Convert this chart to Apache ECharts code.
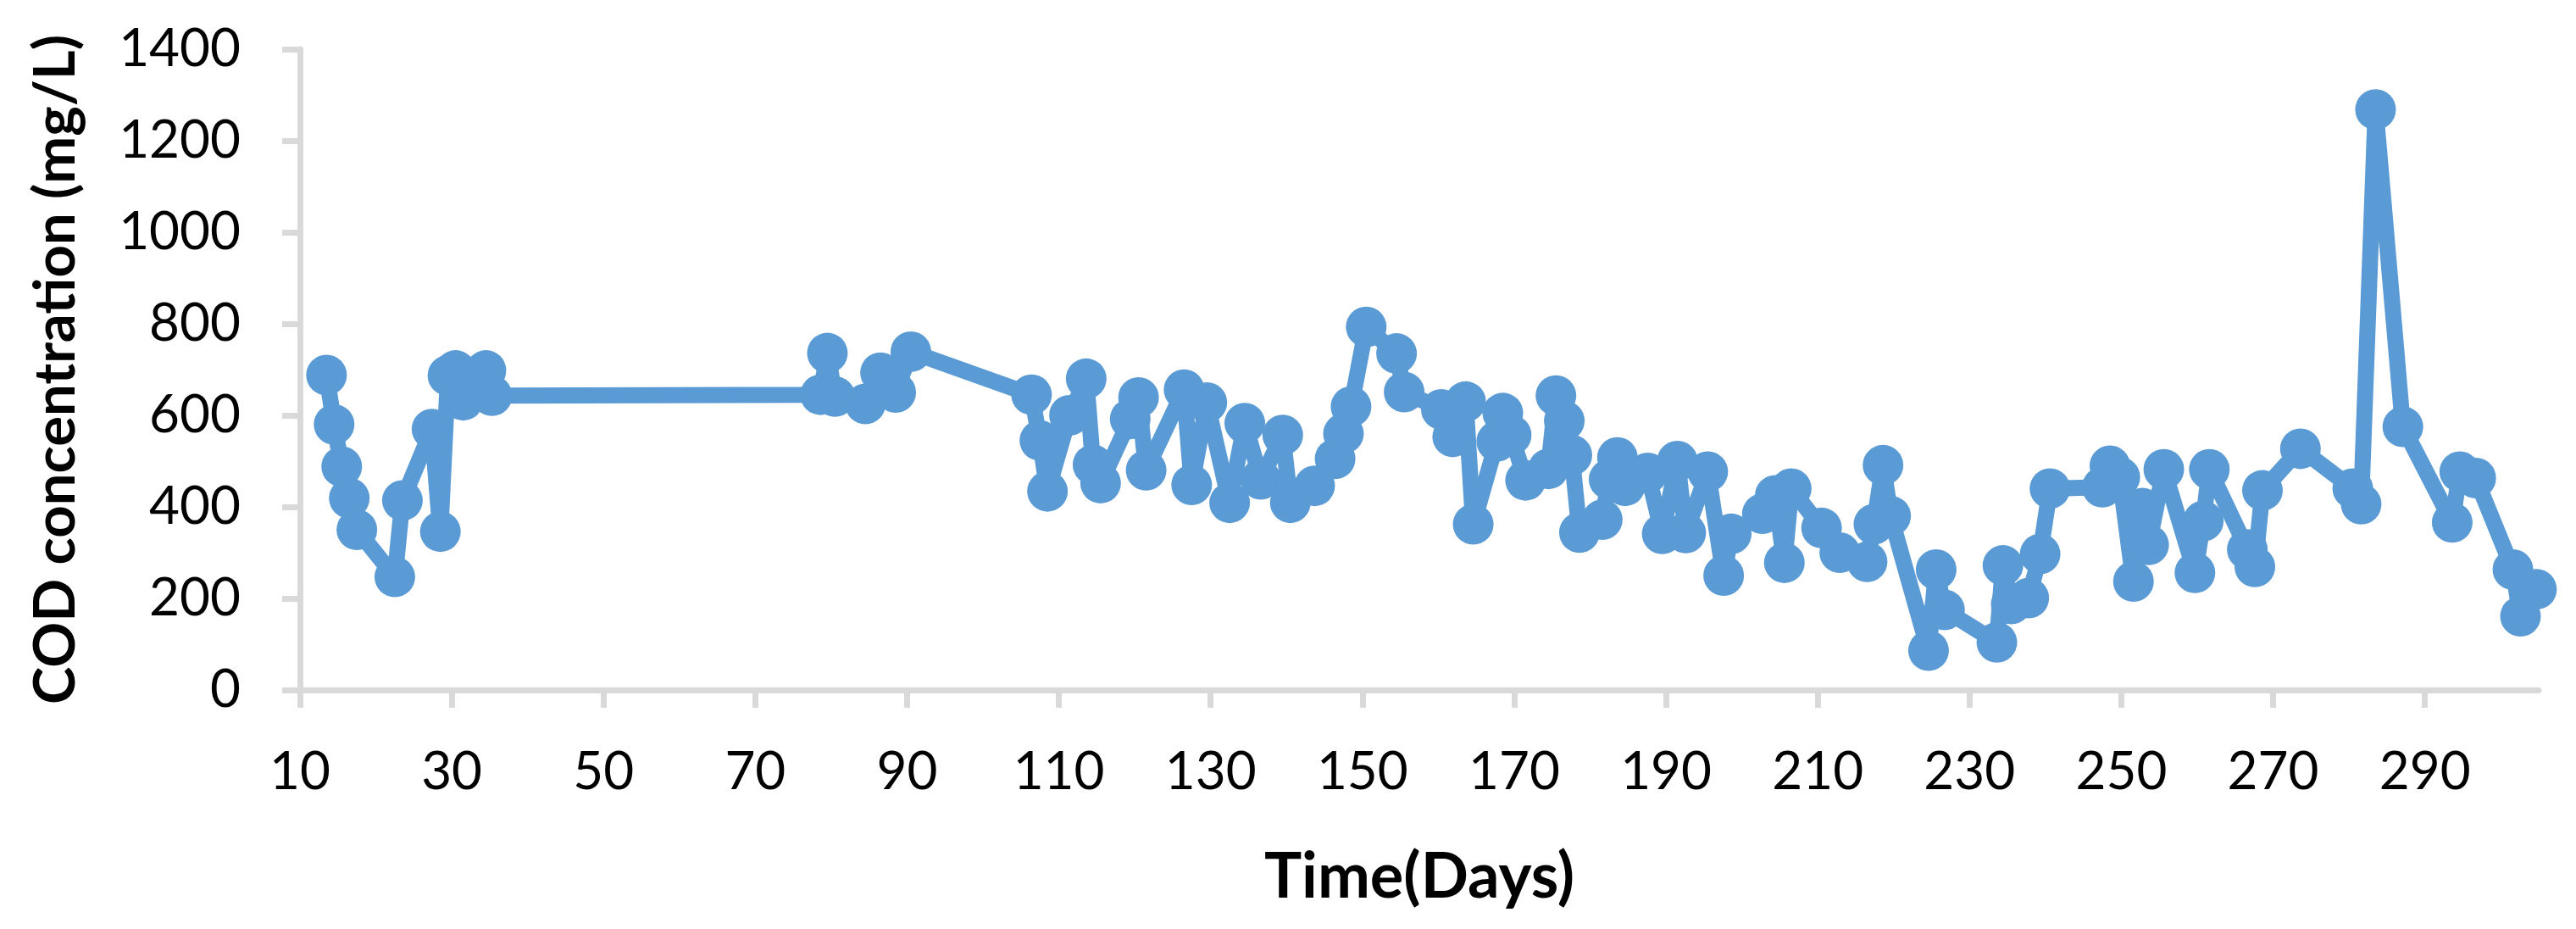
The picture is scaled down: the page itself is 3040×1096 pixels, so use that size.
<!DOCTYPE html>
<html>
<head>
<meta charset="utf-8">
<script src="https://cdn.jsdelivr.net/npm/echarts/dist/echarts.min.js"></script>
<style>
html,body{margin:0;padding:0;background:#fff;}
#chart{width:3040px;height:1096px;}
</style>
</head>
<body>
<div id="chart"></div>
<script>
// Time (days)
const days = [13.5,14.5,15.5,16.5,17.5,22.5,23.5,27.4,28.5,29.5,30.5,31.5,34.5,35.3,
  78.6,79.5,80.5,84.5,86.5,88.5,90.5,
  106.4,107.5,108.5,111.4,113.6,114.5,115.5,119.4,120.5,121.5,126.5,127.5,129.5,132.5,134.5,136.6,139.5,140.5,143.7,146.4,147.5,148.5,150.5,154.5,155.5,
  160.4,161.9,163.6,164.6,167.7,168.5,169.6,171.5,174.5,175.5,176.6,177.6,178.6,181.6,182.5,183.6,184.6,187.6,189.5,
  191.5,192.6,195.5,197.6,198.6,202.7,204.4,205.6,206.5,210.5,212.9,216.5,217.4,218.6,219.6,224.6,225.6,226.7,
  233.6,234.4,235.5,237.8,239.3,240.6,247.5,248.5,249.8,251.6,252.8,253.6,255.6,259.7,260.8,261.6,266.6,267.6,268.6,
  273.6,280.5,281.6,283.5,287.1,293.6,294.6,296.7,301.6,302.6,304.7];
// COD concentration (mg/L)
const cod = [688,580,488,419,350,247,414,570,346,687,698,633,698,643,
  645,736,641,625,693,650,739,
  645,545,434,600,680,492,452,592,639,480,656,448,628,409,583,460,557,409,446,505,560,619,793,735,651,
  613,553,630,362,543,605,557,458,483,643,588,513,344,372,460,508,446,474,341,
  500,343,477,250,341,385,425,278,440,354,300,280,362,491,380,86,263,175,
  104,272,188,201,297,440,443,490,465,237,397,317,482,256,369,482,307,269,436,
  527,440,406,1268,575,366,477,463,263,161,220];
// Axis ticks
const xTicks = [10,30,50,70,90,110,130,150,170,190,210,230,250,270,290];
const yTicks = [0,200,400,600,800,1000,1200,1400];

const chart = echarts.init(document.getElementById('chart'), null, {renderer:'canvas'});
const gray = '#D9D9D9';
const blue = '#5B9BD5';
const font = 'Lato';
chart.setOption({
  animation:false,
  backgroundColor:'#ffffff',
  grid:{left:354, right:44, top:58, bottom:282, containLabel:false},
  xAxis:{
    type:'value', min:10, max:305,
    name:'Time(Days)', nameLocation:'middle', nameGap:184,
    nameTextStyle:{fontFamily:font, fontWeight:'bold', fontSize:74, color:'#000'},
    axisLine:{show:true, lineStyle:{color:gray, width:7}},
    axisTick:{show:true, inside:false, length:21, lineStyle:{color:gray, width:7}, customValues:xTicks},
    axisLabel:{fontFamily:font, fontSize:62, color:'#000', margin:66, customValues:xTicks,
      formatter:function(v){return String(v);}},
    splitLine:{show:false}
  },
  yAxis:{
    type:'value', min:0, max:1400, interval:200,
    name:'COD concentration (mg/L)', nameLocation:'middle', nameRotate:90, nameGap:254,
    nameTextStyle:{fontFamily:font, fontWeight:'bold', fontSize:67, color:'#000'},
    axisLine:{show:true, lineStyle:{color:gray, width:7}},
    axisTick:{show:true, inside:false, length:21, lineStyle:{color:gray, width:7}, customValues:yTicks},
    axisLabel:{fontFamily:font, fontSize:62, color:'#000', margin:70, customValues:yTicks,
      formatter:function(v){return String(v);}},
    splitLine:{show:false}
  },
  series:[{
    type:'line',
    data:days.map((d,i)=>[d,cod[i]]),
    symbol:'circle', symbolSize:48, showSymbol:true,
    itemStyle:{color:blue},
    lineStyle:{color:blue, width:19},
    clip:false
  }]
});
</script>
</body>
</html>
